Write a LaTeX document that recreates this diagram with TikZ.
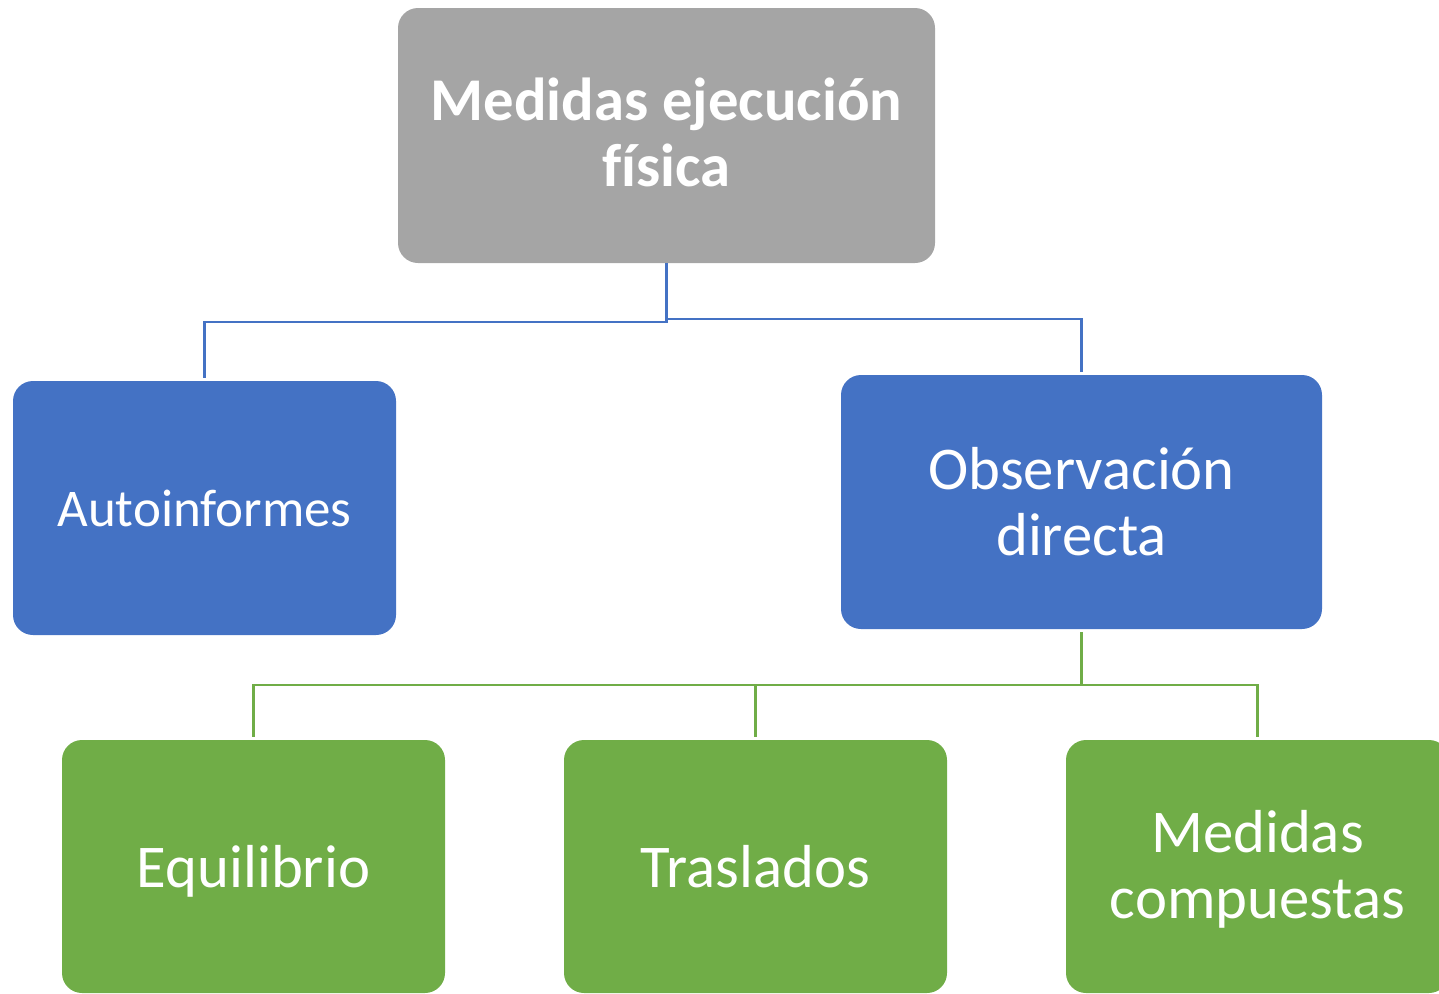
\documentclass[tikz,border=0pt]{standalone}
\usepackage{fontspec}
\setmainfont{Carlito}[Ligatures=NoCommon]
\definecolor{boxgray}{HTML}{A5A5A5}
\definecolor{boxblue}{HTML}{4472C4}
\definecolor{boxgreen}{HTML}{70AD47}
\tikzset{
  card/.style={rounded corners=20pt, inner sep=0pt, align=center, text=white,
    minimum width=383pt, minimum height=254pt,
    font=\fontsize{60.7}{66}\selectfont},
  graycard/.style={card, fill=boxgray, font=\fontsize{60.7}{66}\selectfont\bfseries},
  bluecard/.style={card, fill=boxblue},
  greencard/.style={card, fill=boxgreen},
  blueline/.style={draw=boxblue, line width=2.5pt},
  greenline/.style={draw=boxgreen, line width=2.5pt}
}
\begin{document}
\begin{tikzpicture}[x=1pt,y=-1pt]
\useasboundingbox (0,0) rectangle (1439,993);
\clip (0,0) rectangle (1439,993);
\node[graycard, minimum width=537pt, minimum height=255pt] (top) at (666.5,135.5) {};
\node[font=\fontsize{60.7}{66}\selectfont\bfseries, text=white, align=center, inner sep=0pt] (toptext) at (666.5,132) {Medidas ejecución\\f\kern0ptísica};
\node[bluecard, font=\fontsize{53}{60}\selectfont] (auto) at (204.5,508) {Autoinformes};
\node[bluecard, minimum width=481pt] (obs) at (1081.5,502) {Observación\\directa};
\node[greencard, minimum height=253pt] (eq) at (253.5,866.5) {};
\node[font=\fontsize{60.7}{66}\selectfont, text=white, inner sep=0pt, text depth=0pt] (eqtext) at (eq.center) {Equilibrio};
\node[greencard, minimum height=253pt] (tras) at (755.5,866.5) {Traslados};
\node[greencard, minimum height=253pt] (comp) at (1257.5,866.5) {};
\node[font=\fontsize{60.7}{66}\selectfont, text=white, align=center, inner sep=0pt] (comptext) at (1257.5,869.5) {Medidas\\compuestas};
% blue connectors
\draw[blueline] (top.south) -- ++(0,59) -| ([yshift=3pt]auto.north);
\draw[blueline] (top.south) -- ++(0,56) -| ([yshift=3pt]obs.north);
% green connectors
\draw[greenline] ([yshift=-3pt]obs.south) -- ++(0,53) -| ([yshift=3pt]eq.north);
\draw[greenline] ([yshift=-3pt]obs.south) -- ++(0,53) -| ([yshift=3pt]tras.north);
\draw[greenline] ([yshift=-3pt]obs.south) -- ++(0,53) -| ([yshift=3pt]comp.north);
\end{tikzpicture}
\end{document}
